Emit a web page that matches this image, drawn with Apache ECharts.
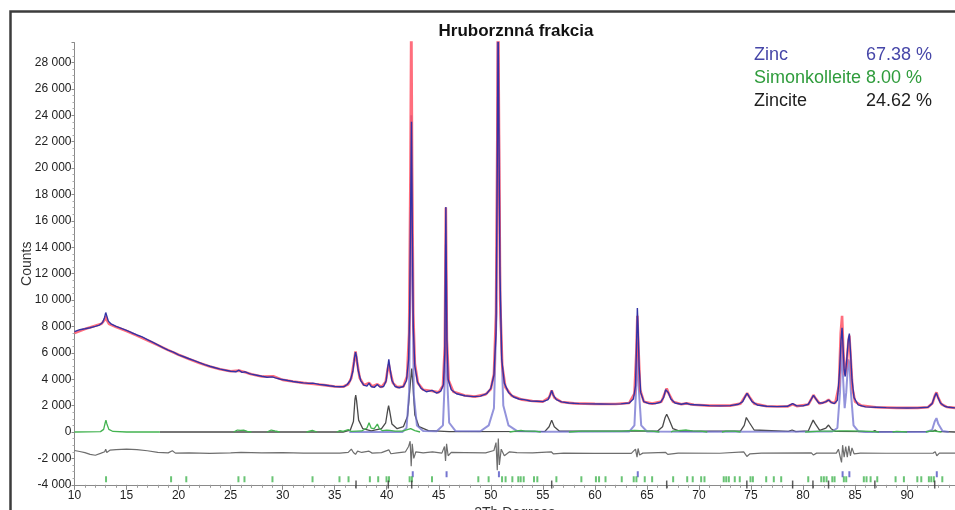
<!DOCTYPE html>
<html>
<head>
<meta charset="utf-8">
<script src="https://cdn.jsdelivr.net/npm/echarts@6/dist/echarts.min.js"></script>
<style>
html,body{margin:0;padding:0;background:#fff;}
#chart{width:955px;height:510px;}
</style>
</head>
<body>
<div id="chart"></div>
<script>
// ---- Data (2Theta degrees, counts) ----
const titleText = 'Hruborznná frakcia';
const xTicks = [10, 15, 20, 25, 30, 35, 40, 45, 50, 55, 60, 65, 70, 75, 80, 85, 90];
const phaseNames = ['Zinc', 'Simonkolleite', 'Zincite'];
const phasePercents = ['67.38 %', '8.00 %', '24.62 %'];

const observed = [[10.0,7600],[10.5,7750],[11.0,7820],[11.5,7900],[12.0,8000],[12.4,8100],[12.7,8300],[12.9,8700],[13.0,9050],[13.1,8800],[13.25,8400],[13.5,8200],[14.0,8000],[14.5,7850],[15.0,7700],[15.5,7520],[16.0,7350],[16.5,7200],[17.0,7000],[17.5,6800],[18.0,6600],[18.5,6400],[19.0,6200],[19.5,6050],[20.0,5850],[20.5,5700],[21.0,5550],[21.5,5400],[22.0,5250],[22.5,5100],[23.0,4980],[23.5,4870],[24.0,4760],[24.5,4680],[25.0,4600],[25.5,4560],[25.8,4680],[26.1,4520],[26.4,4560],[26.8,4420],[27.0,4380],[27.5,4300],[28.0,4220],[28.5,4150],[29.0,4180],[29.1,4280],[29.3,4100],[29.8,4000],[30.5,3900],[31.0,3830],[31.5,3770],[32.0,3720],[32.5,3680],[32.9,3700],[33.5,3610],[34.0,3560],[34.5,3500],[35.0,3450],[35.5,3430],[35.9,3440],[36.2,3600],[36.5,3900],[36.75,4600],[36.9,5600],[37.0,6050],[37.1,5700],[37.25,4700],[37.5,3900],[37.8,3550],[38.1,3480],[38.3,3700],[38.5,3450],[38.8,3380],[39.1,3600],[39.35,3400],[39.7,3450],[39.95,3900],[40.1,4900],[40.2,5500],[40.3,4900],[40.5,3900],[40.8,3450],[41.2,3350],[41.6,3450],[41.9,3900],[42.1,5500],[42.2,9000],[42.3,17000],[42.38,23500],[42.46,15000],[42.55,8000],[42.7,5000],[42.95,3800],[43.3,3300],[43.8,3050],[44.35,3150],[44.8,2950],[45.2,3100],[45.45,3600],[45.58,6000],[45.68,17050],[45.78,7000],[45.9,4000],[46.2,3200],[46.7,2900],[47.5,2750],[48.3,2680],[49.0,2720],[49.6,2900],[50.0,3300],[50.3,4300],[50.5,7500],[50.62,20000],[50.7,31000],[50.78,31000],[50.88,12000],[51.05,5500],[51.3,3700],[51.7,3000],[52.2,2650],[52.7,2500],[53.2,2450],[53.8,2350],[54.4,2330],[55.0,2300],[55.5,2450],[55.7,2800],[55.85,3150],[56.0,2800],[56.3,2450],[56.8,2280],[57.5,2200],[58.5,2150],[59.5,2130],[60.5,2120],[61.5,2110],[62.5,2130],[63.3,2200],[63.7,2500],[63.9,3500],[64.0,6500],[64.08,9400],[64.15,8000],[64.25,5000],[64.4,3000],[64.7,2300],[65.2,2150],[65.8,2150],[66.3,2250],[66.6,2600],[66.8,3200],[66.9,3300],[67.05,3000],[67.3,2500],[67.7,2200],[68.3,2100],[68.8,2180],[69.2,2080],[70.0,2050],[71.0,2000],[72.0,1980],[73.0,2000],[73.8,2100],[74.2,2300],[74.45,2700],[74.62,2930],[74.8,2700],[75.1,2300],[75.6,2050],[76.5,1950],[77.5,1920],[78.5,1950],[79.0,2150],[79.4,1980],[80.0,1980],[80.5,2100],[80.8,2500],[81.0,2780],[81.2,2550],[81.5,2200],[81.9,2200],[82.2,2300],[82.45,2420],[82.7,2250],[83.0,2150],[83.3,2400],[83.5,4500],[83.65,7000],[83.75,7900],[83.85,6400],[83.95,4700],[84.05,4200],[84.2,5500],[84.35,7000],[84.45,7450],[84.55,6200],[84.7,4000],[84.9,2600],[85.3,2050],[86.0,1900],[87.0,1880],[88.0,1850],[89.0,1830],[90.0,1820],[91.0,1830],[92.0,1880],[92.4,2150],[92.65,2700],[92.8,2950],[92.95,2650],[93.2,2200],[93.6,1950],[94.0,1870],[94.6,1830]];

const calculated = [[10.0,7500],[11.0,7800],[12.0,8050],[12.6,8200],[12.9,8500],[13.0,8750],[13.1,8500],[13.3,8200],[14.0,7950],[15.0,7650],[16.0,7300],[17.0,6950],[18.0,6580],[19.0,6200],[20.0,5850],[21.0,5530],[22.0,5230],[23.0,4970],[24.0,4760],[25.0,4600],[25.8,4650],[26.4,4530],[27.0,4370],[28.0,4210],[29.1,4220],[30.0,3950],[31.0,3820],[32.0,3720],[33.0,3640],[34.0,3550],[35.0,3450],[35.8,3430],[36.3,3620],[36.6,4100],[36.85,5300],[37.0,6100],[37.15,5300],[37.4,4100],[37.8,3550],[38.3,3720],[38.6,3450],[39.1,3620],[39.5,3400],[39.9,3800],[40.1,4800],[40.2,5100],[40.3,4700],[40.6,3700],[41.0,3400],[41.6,3450],[41.95,4200],[42.15,7500],[42.28,20000],[42.36,32000],[42.44,20000],[42.55,9000],[42.7,5200],[43.0,3700],[43.5,3200],[44.35,3100],[45.0,3000],[45.4,3500],[45.58,6500],[45.68,17000],[45.78,7000],[45.95,3900],[46.4,3050],[47.5,2760],[48.5,2680],[49.5,2850],[50.0,3250],[50.3,4400],[50.5,9000],[50.62,22000],[50.7,33000],[50.8,33000],[50.9,10000],[51.1,5000],[51.4,3400],[52.0,2750],[53.0,2450],[54.0,2350],[55.0,2300],[55.6,2600],[55.85,3150],[56.1,2600],[56.8,2270],[58.0,2170],[60.0,2130],[62.0,2120],[63.3,2200],[63.8,2900],[63.98,6000],[64.08,8800],[64.18,6500],[64.35,3200],[64.7,2300],[65.5,2150],[66.4,2300],[66.7,2900],[66.9,3300],[67.1,2900],[67.5,2300],[68.3,2100],[68.8,2170],[69.5,2060],[71.0,2000],[73.0,2000],[74.0,2150],[74.4,2650],[74.63,2950],[74.85,2650],[75.3,2150],[76.5,1950],[78.5,1930],[79.0,2100],[79.4,1960],[80.5,2080],[80.8,2500],[81.0,2800],[81.2,2550],[81.6,2150],[82.2,2300],[82.45,2450],[82.7,2250],[83.1,2200],[83.45,3500],[83.62,7500],[83.75,8800],[83.88,6000],[84.02,4300],[84.2,5200],[84.35,6800],[84.45,7300],[84.58,5600],[84.75,3300],[85.0,2300],[85.6,2000],[87.0,1880],[89.0,1830],[91.0,1830],[92.0,1880],[92.45,2200],[92.68,2800],[92.82,3000],[92.98,2600],[93.3,2100],[93.8,1900],[94.6,1830]];

const zincPhase = [[36.4,0],[41.5,0],[41.9,300],[42.15,3000],[42.28,12000],[42.36,24000],[42.44,14000],[42.6,2800],[42.9,500],[43.5,80],[44.8,50],[45.4,500],[45.58,4000],[45.68,14200],[45.78,4500],[46.0,700],[46.6,80],[49.0,60],[49.8,500],[50.3,1800],[50.55,9000],[50.68,34000],[50.8,34000],[50.92,9000],[51.2,2000],[51.7,500],[52.5,80],[55.0,20],[63.3,30],[63.8,500],[64.0,4000],[64.1,6800],[64.2,3500],[64.45,500],[65.0,40],[70.0,10],[82.8,40],[83.3,300],[83.55,3000],[83.72,6800],[83.85,4000],[84.0,1800],[84.15,3000],[84.35,5500],[84.45,5200],[84.6,3000],[84.85,500],[85.3,60],[86.0,0],[91.8,0],[92.4,150],[92.65,800],[92.82,1050],[93.0,600],[93.4,80],[94.0,0]];

const simonkolleitePhase = [[10,0],[12.5,30],[12.8,200],[12.95,700],[13.02,900],[13.1,650],[13.3,200],[13.7,40],[15,0],[18.2,0],null,
[25.3,0],[25.65,150],[25.78,300],[25.95,120],[26.25,150],[26.38,220],[26.6,50],[27,0],null,
[28.5,0],[28.9,150],[29.05,280],[29.25,80],[29.7,0],null,
[32.3,0],[32.85,120],[33.3,0],null,
[35.2,0],[35.5,100],[35.8,40],[36.3,180],[36.6,40],[37.6,80],[38.1,300],[38.3,700],[38.5,300],[38.8,250],[39.1,600],[39.3,250],[39.6,100],[40.0,150],[40.3,120],[40.8,60],[41.5,60],[42.3,250],[42.45,280],[42.7,100],[43.2,0],null,
[51.8,0],[52.5,80],[52.9,120],[53.3,60],[54.2,60],[54.8,0],null,
[57.5,0],[58.7,60],[60.2,70],[61.0,60],[62.6,60],[63.8,120],[64.8,80],[65.5,60],[66.2,0],null,
[67.3,0],[67.5,60],[68.8,150],[69.4,80],[70.2,60],[70.8,0],null,
[72.2,0],[72.6,60],[73.4,60],[74.0,0],null,
[80.2,0],[81.7,60],[82.3,70],[82.8,60],[83.5,80],[84.2,80],[85.8,60],[86.5,50],[87.3,0],null,
[88.6,0],[89.0,40],[90.0,0],null,
[91.8,0],[92.3,80],[92.6,60],[93.3,0]];

const zincitePhase = [[18.2,0],[35.8,0],[36.5,150],[36.8,800],[36.95,2500],[37.02,2800],[37.1,2400],[37.3,900],[37.7,250],[38.5,80],[39.5,250],[39.9,700],[40.1,1700],[40.18,2000],[40.28,1600],[40.5,600],[41.0,250],[41.6,400],[42.0,1200],[42.25,3500],[42.4,4800],[42.5,3800],[42.7,1300],[43.1,400],[44.0,100],[46.0,30],[55.2,50],[55.6,400],[55.85,900],[56.1,400],[56.6,60],[66.0,60],[66.5,400],[66.75,1100],[66.9,1340],[67.1,1000],[67.5,250],[68.2,40],[74.0,80],[74.35,500],[74.55,1100],[74.65,1160],[74.85,700],[75.3,150],[78.6,40],[78.95,150],[79.3,30],[80.5,80],[80.8,600],[80.97,900],[81.15,650],[81.6,120],[82.2,300],[82.45,530],[82.7,250],[83.1,50],[86.7,30],[86.9,100],[87.1,20],[92.5,50],[92.7,150],[92.9,40],[94.6,0]];

const difference = [[10,-1400],[10.5,-1480],[11,-1560],[11.5,-1700],[12,-1760],[12.5,-1620],[12.9,-1500],[13.0,-1300],[13.1,-1550],[13.4,-1380],[14,-1330],[15,-1300],[16,-1330],[17,-1420],[18,-1540],[19,-1580],[19.4,-1420],[19.7,-1600],[21,-1580],[23,-1620],[25,-1580],[26,-1550],[28,-1580],[30,-1570],[32,-1600],[34,-1590],[35.5,-1600],[36.3,-1550],[36.6,-1300],[36.8,-1550],[37.0,-1700],[37.2,-1450],[37.6,-1550],[38.3,-1450],[38.6,-1600],[39.5,-1560],[40.2,-1350],[40.4,-1650],[41,-1580],[41.8,-1500],[42.1,-1100],[42.25,-700],[42.35,-2600],[42.45,-900],[42.6,-2000],[42.8,-1500],[43.5,-1580],[44.4,-1500],[45.3,-1600],[45.55,-1100],[45.65,-2200],[45.75,-900],[45.9,-1800],[46.2,-1550],[47.5,-1560],[49.5,-1580],[50.3,-1400],[50.5,-800],[50.62,-2900],[50.72,-500],[50.82,-2500],[51.0,-1300],[51.3,-1800],[51.8,-1500],[52.5,-1560],[54,-1580],[55.8,-1500],[56,-1650],[57,-1600],[60,-1620],[63.5,-1620],[63.9,-1300],[64.05,-1900],[64.15,-1250],[64.3,-1750],[64.6,-1600],[66.8,-1550],[67.0,-1700],[68,-1600],[72,-1610],[74.3,-1500],[74.6,-1850],[74.9,-1650],[76,-1600],[80.8,-1580],[81.0,-1750],[81.3,-1600],[83.2,-1600],[83.4,-1300],[83.6,-2000],[83.7,-2300],[83.8,-1000],[83.95,-1900],[84.1,-1100],[84.25,-1900],[84.4,-1050],[84.55,-1800],[84.7,-1200],[84.9,-1650],[85.5,-1600],[88,-1610],[92.5,-1600],[92.7,-1500],[92.85,-1800],[93.1,-1600],[94.6,-1600]];

// reflection positions (2Theta) for each phase
const zincRefl = [42.5, 45.75, 50.78, 64.12, 83.8, 84.45, 92.85];
const simonRefl = [13.03, 19.28, 20.74, 25.75, 26.33, 29.02, 32.87, 35.46, 36.33, 38.38, 39.18, 39.98, 40.22, 42.2, 42.42, 44.35, 48.8, 49.79, 51.08, 51.42, 52.07, 52.64, 52.87, 53.16, 54.15, 54.47, 56.3, 58.7, 60.1, 60.4, 61.02, 62.58, 63.73, 63.99, 64.79, 65.5, 67.52, 68.87, 69.4, 70.21, 70.53, 72.38, 72.62, 72.87, 73.44, 73.92, 74.95, 75.18, 76.46, 77.19, 77.9, 80.5, 81.75, 82.0, 82.26, 82.81, 83.03, 83.92, 84.15, 85.84, 86.1, 86.49, 87.13, 88.89, 89.69, 90.98, 91.36, 92.09, 92.32, 92.57, 93.38];
const zinciteRefl = [37.05, 40.15, 42.4, 55.85, 66.9, 74.6, 79.0, 80.95, 82.45, 86.9, 92.65];

// ---- chart ----
const FONT = '"Liberation Sans", Arial, sans-serif';
const fmt = v => String(v).replace(/\B(?=(\d{3})+(?!\d))/g, ' ');
const reflSeries = (arr, yLevel, color, size) => ({
  type: 'scatter', silent: true, symbol: 'rect', symbolSize: size,
  itemStyle: { color: color }, data: arr.map(x => [x, yLevel]), z: 20, clip: false
});

const chart = echarts.init(document.getElementById('chart'), null, { renderer: 'canvas' });
chart.setOption({
  animation: false,
  backgroundColor: '#ffffff',
  title: {
    text: titleText, left: 511, top: 18, textAlign: 'center',
    textStyle: { fontFamily: FONT, fontSize: 17, fontWeight: 'bold', color: '#111' }
  },
  grid: { left: 74.5, right: 0, top: 42.6, bottom: 25.2, containLabel: false, outerBoundsMode: 'none' },
  xAxis: {
    type: 'value', min: 10, max: 94.6, interval: 5,
    name: '2Th Degrees', nameLocation: 'middle', nameGap: 21, nameMoveOverlap: false,
    nameTextStyle: { fontFamily: FONT, fontSize: 14, color: '#333' },
    axisLine: { onZero: false, lineStyle: { color: '#8a8a8a', width: 1 } },
    axisTick: { show: true, length: 5, lineStyle: { color: '#8a8a8a' } },
    minorTick: { show: true, splitNumber: 5, length: 3, lineStyle: { color: '#9a9a9a' } },
    axisLabel: { fontFamily: FONT, fontSize: 12, color: '#222', margin: 5, showMaxLabel: false,
      formatter: v => (xTicks.indexOf(v) >= 0 ? String(v) : '') },
    splitLine: { show: false }
  },
  yAxis: {
    type: 'value', min: -4000, max: 29500, interval: 2000,
    name: 'Counts', nameLocation: 'middle', nameGap: 40, nameRotate: 90, nameMoveOverlap: false,
    nameTextStyle: { fontFamily: FONT, fontSize: 14, color: '#333' },
    axisLine: { show: true, onZero: false, lineStyle: { color: '#8a8a8a', width: 1 } },
    axisTick: { show: true, length: 3, lineStyle: { color: '#8a8a8a' } },
    minorTick: { show: true, splitNumber: 4, length: 2, lineStyle: { color: '#aaaaaa' } },
    axisLabel: { fontFamily: FONT, fontSize: 12, color: '#222', margin: 3, showMaxLabel: false,
      formatter: v => (v % 2000 === 0 ? fmt(v) : '') },
    splitLine: { show: false }
  },
  graphic: [
    { type: 'rect', shape: { x: 10.5, y: 11.5, width: 1000, height: 600 },
      style: { fill: 'none', stroke: '#3c3c3c', lineWidth: 2.5 }, silent: true, z: 100 },
    { type: 'text', left: 754, top: 46, style: { text: phaseNames[0], fill: '#4646a8', font: '18px ' + FONT } },
    { type: 'text', left: 866, top: 46, style: { text: phasePercents[0], fill: '#4646a8', font: '18px ' + FONT } },
    { type: 'text', left: 754, top: 69, style: { text: phaseNames[1] + ' ' + phasePercents[1], fill: '#2f9c3c', font: '18px ' + FONT } },
    { type: 'text', left: 754, top: 92, style: { text: phaseNames[2], fill: '#1e1e1e', font: '18px ' + FONT } },
    { type: 'text', left: 866, top: 92, style: { text: phasePercents[2], fill: '#1e1e1e', font: '18px ' + FONT } }
  ],
  series: [
    { name: 'Zincite', type: 'line', data: zincitePhase, showSymbol: false, silent: true,
      lineStyle: { color: '#4a4a4a', width: 1.3 }, z: 2 },
    { name: 'Zinc', type: 'line', data: zincPhase, showSymbol: false, silent: true,
      lineStyle: { color: '#6f6fcf', width: 2, opacity: 0.75 }, z: 3 },
    { name: 'Simonkolleite', type: 'line', data: simonkolleitePhase, showSymbol: false, silent: true,
      connectNulls: false, lineStyle: { color: '#43b350', width: 1.3 }, z: 4 },
    { name: 'Difference', type: 'line', data: difference, showSymbol: false, silent: true,
      lineStyle: { color: '#6e6e6e', width: 1.2 }, z: 5 },
    { name: 'Calculated', type: 'line', data: calculated, showSymbol: false, silent: true,
      lineStyle: { color: '#ff4a5c', width: 2.6, opacity: 0.8 }, z: 6 },
    { name: 'Observed', type: 'line', data: observed, showSymbol: false, silent: true,
      lineStyle: { color: '#3333a6', width: 1.4 }, z: 7 },
    reflSeries(zincRefl, -3200, '#5252c4', [2, 6]),
    reflSeries(simonRefl, -3580, '#45b552', [2, 6]),
    reflSeries(zinciteRefl, -3980, '#333333', [1.5, 8])
  ]
});
</script>
</body>
</html>
